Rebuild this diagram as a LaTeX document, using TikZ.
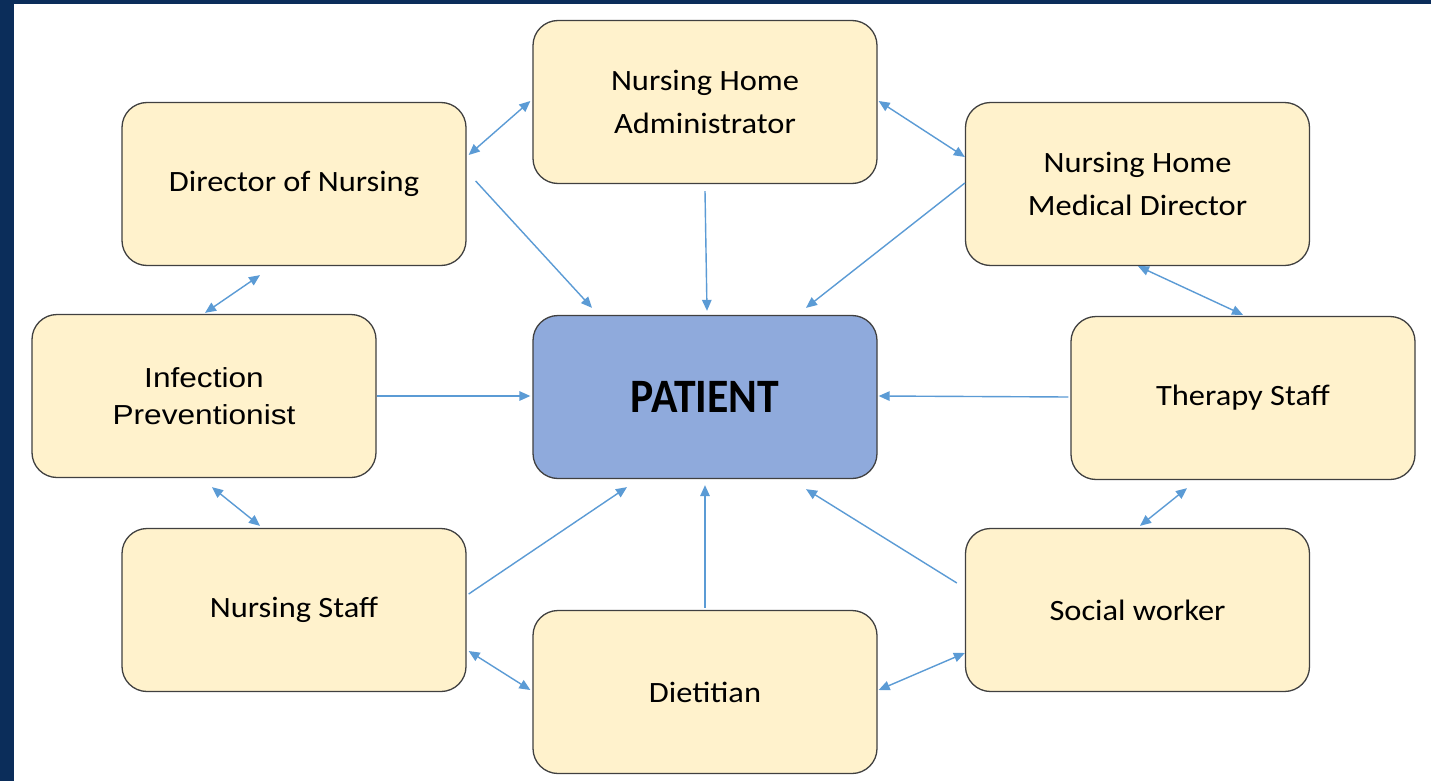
\documentclass[tikz,border=0pt]{standalone}
\usepackage{fontspec}
\usepackage{graphicx}
\setmainfont{Carlito}
\newfontfamily\arialfont{Liberation Sans}
\usetikzlibrary{arrows.meta,calc}
\definecolor{frameblue}{HTML}{0B2D5A}
\definecolor{boxfill}{HTML}{FFF2CC}
\definecolor{patfill}{HTML}{8FAADC}
\definecolor{boxline}{HTML}{404040}
\definecolor{arrowblue}{HTML}{5B9BD5}
\newcommand\cb[1]{\scalebox{1.1}[1]{#1}}
\newcommand\ab[1]{\scalebox{1.15}[1]{#1}}
\tikzset{
  rolebox/.style={draw=boxline, line width=1.3pt, fill=boxfill, rounded corners=25pt,
    minimum width=344pt, minimum height=163pt, inner sep=0pt, align=center,
    font=\fontsize{29.5}{43}\selectfont},
  patbox/.style={rolebox, fill=patfill, font=\fontsize{48}{50}\selectfont\bfseries},
  link/.style={draw=arrowblue, line width=1.4pt, -{Triangle[length=11pt,width=9.5pt]}},
  dlink/.style={draw=arrowblue, line width=1.4pt, {Triangle[length=11pt,width=9.5pt]}-{Triangle[length=11pt,width=9.5pt]}}
}
\begin{document}
\begin{tikzpicture}[x=1pt,y=-1pt]
\useasboundingbox (0,0) rectangle (1431,781);
\fill[white] (0,0) rectangle (1431,781);
\fill[frameblue] (0,0) rectangle (14,781);
\fill[frameblue] (0,0) rectangle (1431,4);

\node[rolebox] (don) at (294,184) {\cb{Director of Nursing}};
\node[rolebox] (nha) at (705,102) {\cb{Nursing Home}\\\cb{Administrator}};
\node[rolebox] (md) at (1137.5,184) {\cb{Nursing Home}\\\cb{Medical Director}};
\node[rolebox, font=\arialfont\fontsize{27.5}{37.5}\selectfont] (ip) at (204,396) {\ab{Infection}\\\ab{Preventionist}};
\node[patbox] (pat) at (705,397) {\scalebox{0.91}[1]{PATIENT}};
\node[rolebox] (ts) at (1243,398) {\cb{Therapy Staff}};
\node[rolebox] (ns) at (294,610) {\cb{Nursing Staff}};
\node[rolebox] (di) at (705,692) {\cb{Dietitian}};
\node[rolebox] (sw) at (1137.5,610) {\cb{Social worker}};

% double-headed links between neighbours
\draw[dlink] ($(don.east)+(2,-29)$) -- ($(nha.west)+(-2,-1)$);
\draw[dlink] ($(nha.east)+(1,-1)$) -- ($(md.west)+(0,-27)$);
\draw[dlink] ($(don.south)+(-34,9)$) -- ($(ip.north)+(1,-1)$);
\draw[dlink] ($(md.south)+(0.5,0)$) -- ($(ts.north)+(0,-1)$);
\draw[dlink] ($(ip.south)+(8,9)$) -- ($(ns.north)+(-34,-2)$);
\draw[dlink] ($(ts.south)+(-56,8)$) -- ($(sw.north)+(2.5,-2)$);
\draw[dlink] ($(ns.east)+(2,41)$) -- ($(di.west)+(-2,-2)$);
\draw[dlink] ($(di.east)+(1,-2)$) -- ($(sw.west)+(0,43)$);

% links into the patient
\draw[link] ($(don.east)+(9,-3)$) -- ($(pat.north)+(-113,-7)$);
\draw[link] ($(nha.south)+(0,7)$) -- ($(pat.north)+(2,-4)$);
\draw[link] ($(md.west)+(0,-1)$) -- ($(pat.north)+(101,-7)$);
\draw[link] ($(ip.east)+(0,0)$) -- ($(pat.west)+(-2,-1)$);
\draw[link] ($(ts.west)+(-2,-1)$) -- ($(pat.east)+(1,-1)$);
\draw[link] ($(ns.east)+(2,-16)$) -- ($(pat.south)+(-78,8)$);
\draw[link] ($(di.north)+(0,-2)$) -- ($(pat.south)+(0,6)$);
\draw[link] ($(sw.west)+(-8,-27)$) -- ($(pat.south)+(101,10)$);
\end{tikzpicture}
\end{document}
